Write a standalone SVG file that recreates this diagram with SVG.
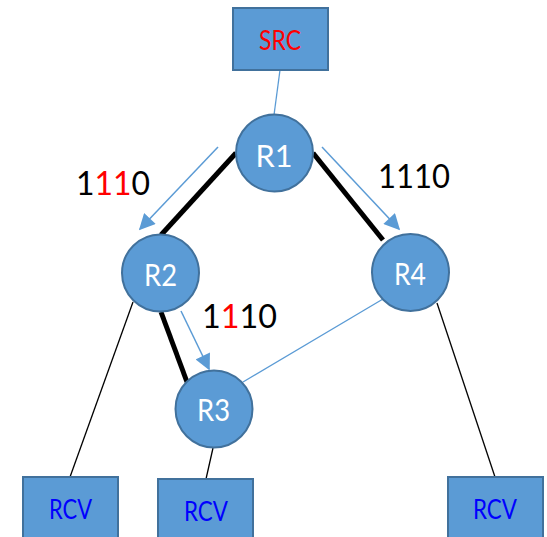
<svg xmlns="http://www.w3.org/2000/svg" width="547" height="537" viewBox="0 0 547 537">
  <style>
    .box { fill: #5B9BD5; stroke: #41719C; stroke-width: 2; }
    .router { fill: #5B9BD5; stroke: #41719C; stroke-width: 2; }
    .rlabel { font-family: Lato, "Liberation Sans", sans-serif; font-size: 30px; fill: #FFFFFF; text-anchor: middle; }
    .blabel { font-family: Lato, "Liberation Sans", sans-serif; font-size: 26px; text-anchor: middle; }
    .bits { font-family: Lato, "Liberation Sans", sans-serif; font-size: 32px; fill: #000000; }
    .red { fill: #FF0000; }
    .thin-blue { stroke: #5B9BD5; stroke-width: 1.3; fill: none; }
    .thin-black { stroke: #000000; stroke-width: 1.3; fill: none; }
    .thick { stroke: #000000; stroke-width: 5; fill: none; }
    .flow { stroke: #5B9BD5; stroke-width: 1.5; fill: none; marker-end: url(#head); }
  </style>
  <defs>
    <marker id="head" viewBox="0 0 10 10" refX="9" refY="5" markerUnits="userSpaceOnUse" markerWidth="17" markerHeight="16" orient="auto">
      <path d="M0,0 L10,5 L0,10 Z" fill="#5B9BD5"/>
    </marker>
  </defs>

  <rect width="547" height="537" fill="#FFFFFF"/>

  <!-- links and multicast flow arrows -->
  <g id="connectors">
    <line class="thin-blue" x1="280" y1="70" x2="274" y2="115"/>
    <line class="thick" x1="236" y1="153" x2="161" y2="235"/>
    <line class="thick" x1="313" y1="153" x2="383" y2="240"/>
    <line class="thick" x1="161" y1="312" x2="187" y2="382"/>
    <line class="thin-blue" x1="243" y1="382" x2="383" y2="299"/>
    <line class="thin-black" x1="133" y1="302" x2="70" y2="477"/>
    <line class="thin-black" x1="213" y1="448" x2="206" y2="479"/>
    <line class="thin-black" x1="437" y1="303" x2="495" y2="477"/>
    <line class="flow" x1="218" y1="147" x2="140" y2="229"/>
    <line class="flow" x1="322" y1="147" x2="399" y2="229"/>
    <line class="flow" x1="181" y1="311" x2="209" y2="369"/>
  </g>

  <g id="src">
    <rect class="box" x="233" y="8" width="95" height="62"/>
    <text class="blabel" x="280" y="50" fill="#FF0000" textLength="42" lengthAdjust="spacingAndGlyphs">SRC</text>
  </g>

  <g id="r1">
    <circle class="router" cx="274.5" cy="153" r="38.5"/>
    <text class="rlabel" x="274" y="167" textLength="37" lengthAdjust="spacingAndGlyphs">R1</text>
  </g>
  <g id="r2">
    <circle class="router" cx="160.5" cy="273" r="38.5"/>
    <text class="rlabel" x="160.5" y="286" textLength="33" lengthAdjust="spacingAndGlyphs">R2</text>
  </g>
  <g id="r4">
    <circle class="router" cx="410.5" cy="272.5" r="38.5"/>
    <text class="rlabel" x="410" y="285" textLength="32" lengthAdjust="spacingAndGlyphs">R4</text>
  </g>
  <g id="r3">
    <circle class="router" cx="214" cy="409" r="38.5"/>
    <text class="rlabel" x="213.5" y="421" textLength="33" lengthAdjust="spacingAndGlyphs">R3</text>
  </g>

  <g id="rcv-left">
    <rect class="box" x="23" y="477" width="95" height="64"/>
    <text class="blabel" x="70.5" y="519" fill="#0000FF" textLength="43" lengthAdjust="spacingAndGlyphs">RCV</text>
  </g>
  <g id="rcv-middle">
    <rect class="box" x="158" y="479" width="95" height="64"/>
    <text class="blabel" x="206" y="521" fill="#0000FF" textLength="44" lengthAdjust="spacingAndGlyphs">RCV</text>
  </g>
  <g id="rcv-right">
    <rect class="box" x="448" y="477" width="95" height="64"/>
    <text class="blabel" x="495" y="519" fill="#0000FF" textLength="44" lengthAdjust="spacingAndGlyphs">RCV</text>
  </g>

  <!-- bit-string labels -->
  <g id="bits-left">
    <text class="bits" x="76" y="195" textLength="74" lengthAdjust="spacingAndGlyphs">1<tspan class="red">11</tspan>0</text>
  </g>
  <g id="bits-right">
    <text class="bits" x="378" y="188" textLength="72" lengthAdjust="spacingAndGlyphs">1110</text>
  </g>
  <g id="bits-middle">
    <text class="bits" x="202" y="328" textLength="75" lengthAdjust="spacingAndGlyphs">1<tspan class="red">1</tspan>10</text>
  </g>
</svg>
